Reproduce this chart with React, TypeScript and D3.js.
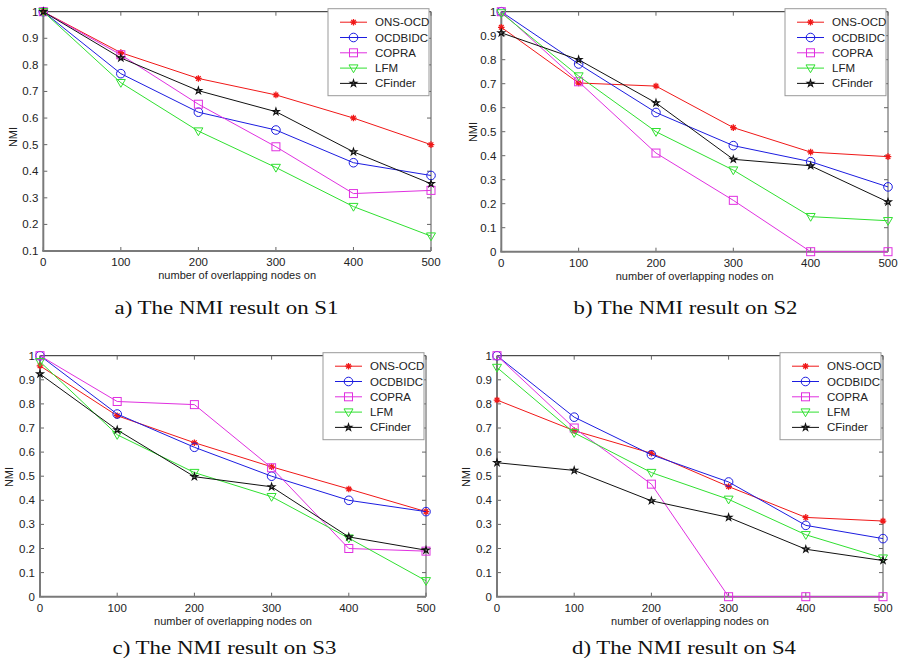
import React from "react";
import * as d3 from "d3";

// x positions shared by all four panels
const xValues = [0, 100, 200, 300, 400, 500];
const seriesNames = ["ONS-OCD", "OCDBIDC", "COPRA", "LFM", "CFinder"];
const seriesColors = ["#f01818", "#1c1ce0", "#e030e0", "#30e030", "#111111"];
const seriesMarkers = ["asterisk", "circle", "square", "triangleDown", "star"];

// NMI values per panel, rows follow seriesNames
const s1Values = [
  [1, 0.846, 0.749, 0.687, 0.6, 0.5],
  [1, 0.767, 0.622, 0.555, 0.432, 0.384],
  [1, 0.838, 0.652, 0.492, 0.316, 0.328],
  [1, 0.733, 0.551, 0.414, 0.267, 0.156],
  [1, 0.826, 0.703, 0.624, 0.473, 0.353],
];
const s2Values = [
  [0.935, 0.703, 0.69, 0.517, 0.415, 0.396],
  [1, 0.782, 0.58, 0.442, 0.375, 0.27],
  [1, 0.708, 0.411, 0.214, 0, 0],
  [0.995, 0.732, 0.5, 0.34, 0.146, 0.129],
  [0.912, 0.8, 0.62, 0.385, 0.358, 0.207],
];
const s3Values = [
  [0.958, 0.751, 0.639, 0.539, 0.447, 0.353],
  [1, 0.758, 0.62, 0.5, 0.4, 0.353],
  [1, 0.81, 0.797, 0.535, 0.2, 0.189],
  [0.975, 0.672, 0.515, 0.415, 0.243, 0.066],
  [0.924, 0.692, 0.498, 0.456, 0.248, 0.193],
];
const s4Values = [
  [0.816, 0.689, 0.595, 0.457, 0.329, 0.314],
  [1, 0.745, 0.589, 0.476, 0.296, 0.241],
  [1, 0.7, 0.467, 0, 0, 0],
  [0.951, 0.68, 0.515, 0.404, 0.257, 0.16],
  [0.556, 0.524, 0.398, 0.329, 0.197, 0.15],
];

const yTicksS1 = [0.1, 0.2, 0.3, 0.4, 0.5, 0.6, 0.7, 0.8, 0.9, 1];
const yTicksFull = [0, 0.1, 0.2, 0.3, 0.4, 0.5, 0.6, 0.7, 0.8, 0.9, 1];
const captions = [
  "a) The NMI result on S1",
  "b) The NMI result on S2",
  "c) The NMI result on S3",
  "d) The NMI result on S4",
];
const xLabel = "number of overlapping nodes on";
const yLabel = "NMI";

const AXIS_FONT = "Arial, 'Liberation Sans', sans-serif";

function Marker({ kind, x, y, color }: { kind: string; x: number; y: number; color: string }) {
  const t = `translate(${x},${y})`;
  if (kind === "circle") return <circle cx={x} cy={y} r={4.3} fill="none" stroke={color} strokeWidth={1} />;
  if (kind === "square") return <rect x={x - 4} y={y - 4} width={8} height={8} fill="none" stroke={color} strokeWidth={1} />;
  if (kind === "triangleDown")
    return <path transform={t} d="M-4.5,-3.2L4.5,-3.2L0,4.6Z" fill="none" stroke={color} strokeWidth={1} />;
  if (kind === "star")
    return <path transform={t} d={d3.symbol(d3.symbolStar, 13)() || ""} fill="none" stroke={color} strokeWidth={1.2} />;
  return (
    <path
      transform={t}
      d="M-3.3,0L3.3,0M0,-3.3L0,3.3M-2.3,-2.3L2.3,2.3M-2.3,2.3L2.3,-2.3"
      fill="none"
      stroke={color}
      strokeWidth={1.3}
    />
  );
}

function Panel({
  values, yDomain, yTicks, left, right, top, bottom, yLabelX, yLabelY, caption, capX, capY,
}: {
  values: number[][]; yDomain: [number, number]; yTicks: number[];
  left: number; right: number; top: number; bottom: number;
  yLabelX: number; yLabelY: number; caption: string; capX: number; capY: number;
}) {
  const x = d3.scaleLinear().domain([0, 500]).range([left, right]);
  const y = d3.scaleLinear().domain(yDomain).range([bottom, top]);
  const line = d3.line<number>().x((_, i) => x(xValues[i])).y((d) => y(d));
  const fmt = (v: number) => (v === 1 ? "1" : v === 0 ? "0" : v.toFixed(1));
  const legLeft = right - 103;
  return (
    <g>
      {/* box, top/right thin */}
      <line x1={left} x2={right} y1={top} y2={top} stroke="#222" strokeWidth={1} />
      <line x1={right} x2={right} y1={top} y2={bottom} stroke="#555" strokeWidth={1} />
      {/* ticks, pointing inward, mirrored */}
      {xValues.map((v) => (
        <g key={"xt" + v}>
          <line x1={x(v)} x2={x(v)} y1={bottom} y2={bottom - 4} stroke="#666" />
          <line x1={x(v)} x2={x(v)} y1={top} y2={top + 4} stroke="#666" />
          <text x={x(v)} y={bottom + 15} textAnchor="middle" fontFamily={AXIS_FONT} fontSize={11.5} fill="#222">
            {v}
          </text>
        </g>
      ))}
      {yTicks.map((v) => (
        <g key={"yt" + v}>
          <line x1={left} x2={left + 4} y1={y(v)} y2={y(v)} stroke="#666" />
          <line x1={right} x2={right - 4} y1={y(v)} y2={y(v)} stroke="#666" />
          <text x={left - 5} y={y(v) + 4} textAnchor="end" fontFamily={AXIS_FONT} fontSize={11.5} fill="#222">
            {fmt(v)}
          </text>
        </g>
      ))}
      <line x1={left} x2={left} y1={top} y2={bottom} stroke="#7a7a7a" strokeWidth={2} />
      <line x1={left - 1} x2={right} y1={bottom} y2={bottom} stroke="#7a7a7a" strokeWidth={2} />
      <text x={(left + right) / 2} y={bottom + 28} textAnchor="middle" fontFamily={AXIS_FONT} fontSize={11} fill="#222">
        {xLabel}
      </text>
      <text
        transform={`translate(${yLabelX},${yLabelY}) rotate(-90)`}
        textAnchor="middle"
        fontFamily={AXIS_FONT}
        fontSize={11}
        fill="#222"
        dy="0.35em"
      >
        {yLabel}
      </text>
      {/* series */}
      {values.map((vals, si) => (
        <g key={"s" + si}>
          <path d={line(vals) || ""} fill="none" stroke={seriesColors[si]} strokeWidth={1} />
          {vals.map((v, i) => (
            <Marker key={i} kind={seriesMarkers[si]} x={x(xValues[i])} y={y(v)} color={seriesColors[si]} />
          ))}
        </g>
      ))}
      {/* legend */}
      <rect x={legLeft} y={top - 3} width={101} height={87} fill="#fff" stroke="#999" strokeWidth={1} />
      {seriesNames.map((name, si) => {
        const ly = top + 10.5 + si * 15.3;
        return (
          <g key={name}>
            <line x1={legLeft + 12} x2={legLeft + 39} y1={ly} y2={ly} stroke={seriesColors[si]} strokeWidth={1} />
            <Marker kind={seriesMarkers[si]} x={legLeft + 25.5} y={ly} color={seriesColors[si]} />
            <text x={legLeft + 47} y={ly + 4} fontFamily={AXIS_FONT} fontSize={11.5} fill="#222">
              {name}
            </text>
          </g>
        );
      })}
      <text
        x={capX}
        y={capY}
        textAnchor="middle"
        fontFamily="'Liberation Serif', 'DejaVu Serif', serif"
        fontSize={19}
        textLength={224}
        lengthAdjust="spacingAndGlyphs"
        fill="#111"
      >
        {caption}
      </text>
    </g>
  );
}

export default function App() {
  return (
    <svg width={898} height={665} style={{ position: "absolute", left: 0, top: 0, background: "#fff" }}>
      <Panel values={s1Values} yDomain={[0.1, 1]} yTicks={yTicksS1} left={43.3} right={431} top={11.7} bottom={251}
        yLabelX={13} yLabelY={137} caption={captions[0]} capX={226.5} capY={314} />
      <Panel values={s2Values} yDomain={[0, 1]} yTicks={yTicksFull} left={501.3} right={888} top={11.7} bottom={251.7}
        yLabelX={473} yLabelY={132} caption={captions[1]} capX={685.5} capY={314} />
      <Panel values={s3Values} yDomain={[0, 1]} yTicks={yTicksFull} left={40} right={426} top={355.7} bottom={596.7}
        yLabelX={9.5} yLabelY={477} caption={captions[2]} capX={224.5} capY={654} />
      <Panel values={s4Values} yDomain={[0, 1]} yTicks={yTicksFull} left={497} right={883} top={355.7} bottom={596.7}
        yLabelX={466} yLabelY={477} caption={captions[3]} capX={684} capY={654} />
    </svg>
  );
}
